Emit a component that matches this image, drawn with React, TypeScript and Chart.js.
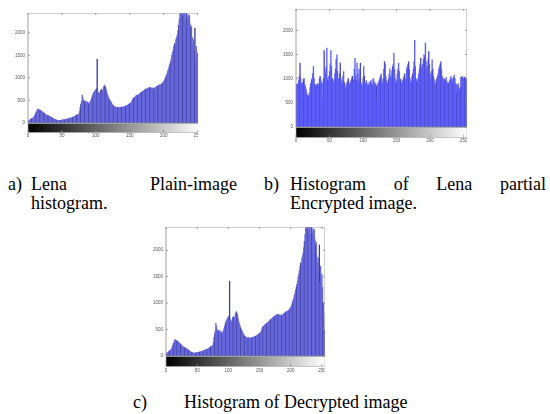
import React, { useEffect, useRef } from "react";
import { Chart, registerables } from "chart.js";
Chart.register(...registerables);

// Grey levels (histogram bins)
const bins: number[] = Array.from({ length: 256 }, (_, i) => i);
const xTicks = [0, 50, 100, 150, 200, 250];
const yTicks = [0, 500, 1000, 1500, 2000];
const yMax = 2440;

// (a) Lena plain-image histogram
const plainHist = [
  25, 45, 60, 70, 80, 95, 100, 110, 120, 140,
  170, 200, 240, 270, 300, 310, 295, 290, 280, 270,
  265, 250, 240, 230, 215, 200, 190, 180, 170, 165,
  160, 150, 145, 140, 130, 120, 110, 100, 95, 85,
  80, 70, 65, 60, 55, 50, 55, 60, 58, 62,
  65, 70, 68, 72, 75, 80, 78, 85, 90, 95,
  100, 105, 110, 115, 110, 120, 130, 125, 140, 150,
  160, 170, 180, 175, 190, 200, 260, 350, 420, 480,
  620, 560, 500, 480, 470, 490, 460, 450, 470, 440,
  420, 450, 480, 520, 560, 600, 640, 680, 700, 720,
  740, 760, 1415, 700, 660, 640, 680, 720, 740, 700,
  720, 780, 820, 840, 800, 760, 700, 640, 600, 560,
  520, 500, 480, 450, 420, 400, 380, 370, 360, 350,
  345, 340, 350, 345, 340, 335, 340, 345, 350, 355,
  360, 350, 365, 370, 375, 380, 390, 400, 410, 420,
  430, 440, 450, 480, 520, 540, 560, 570, 580, 600,
  610, 620, 600, 630, 640, 650, 670, 680, 690, 700,
  710, 720, 740, 730, 750, 760, 770, 780, 760, 790,
  780, 790, 770, 760, 780, 750, 770, 780, 790, 800,
  810, 830, 820, 840, 850, 840, 860, 870, 880, 900,
  920, 950, 980, 1020, 1060, 1100, 1150, 1200, 1250, 1300,
  1350, 1420, 1500, 1560, 1620, 1700, 1760, 1720, 1850, 1900,
  1950, 2050, 2170, 2300, 2420, 2500, 2460, 2500, 2380, 2480,
  2500, 2450, 2300, 2500, 2420, 2350, 2280, 2400, 2380, 2200,
  2100, 2150, 1900, 1760, 1850, 1600, 2100, 1400, 1700, 1500,
  1550, 1300, 1000, 800, 500, 480,
];

// (b) Lena partially encrypted image histogram
const partialEncHist = [
  420, 880, 890, 870, 960, 1050, 1320, 1000, 900, 860,
  920, 980, 1000, 880, 840, 780, 700, 660, 650, 640,
  700, 820, 900, 960, 1000, 1100, 1250, 1000, 880, 860,
  870, 850, 900, 880, 860, 1000, 1050, 980, 900, 920,
  590, 1000, 1580, 1200, 1100, 1250, 1630, 1000, 960, 1050,
  1150, 1300, 1580, 1250, 1000, 950, 920, 980, 1100, 1200,
  1400, 1490, 1150, 1000, 950, 1100, 1320, 1000, 900, 960,
  1050, 1145, 920, 880, 800, 840, 920, 950, 1000, 900,
  880, 920, 960, 1000, 1050, 900, 980, 1200, 1420, 1050,
  960, 1320, 1100, 950, 1200, 1000, 1320, 920, 880, 860,
  1000, 1250, 1050, 920, 880, 960, 900, 850, 870, 920,
  880, 940, 960, 900, 860, 1000, 980, 920, 870, 900,
  840, 555, 880, 920, 960, 1000, 1050, 1100, 950, 900,
  1000, 1200, 1350, 1300, 1050, 960, 920, 880, 1000, 1100,
  1200, 1050, 1000, 1150, 1250, 1300, 1525, 1200, 1000, 960,
  920, 1100, 1200, 1320, 1150, 1000, 980, 920, 880, 960,
  1000, 1050, 1100, 1000, 950, 1200, 1250, 1300, 1350, 1200,
  1000, 920, 950, 1050, 1100, 1200, 1350, 1790, 1250, 1000,
  940, 960, 1000, 1100, 1200, 1300, 1420, 1250, 1150, 1300,
  1400, 1500, 1450, 1735, 1350, 1200, 1250, 1400, 1560, 1300,
  1100, 1000, 1150, 1390, 1200, 1050, 980, 920, 880, 960,
  1000, 1050, 1100, 1200, 1250, 1300, 1350, 1200, 1050, 1000,
  960, 1000, 980, 950, 1020, 940, 900, 920, 880, 960,
  1000, 1050, 980, 920, 1000, 1030, 1075, 1000, 900, 880,
  700, 850, 900, 800, 780, 820, 1030, 1020, 1040, 1010,
  1000, 1020, 1030, 1000, 980, 555,
];

// (c) Decrypted image histogram: identical to the plain image
const decryptedHist = plainHist;

type PanelProps = {
  values: number[];
  color: string;
  stripe: string;
  left: number;
  top: number;
  width: number;
  height: number;
  yw: number;
  xh: number;
  cbH: number;
  xPad: number;
  clipW?: number;
};

function makeDecor(cbH: number) {
  return {
    id: "decor",
    afterDraw(chart: any) {
      const { ctx, chartArea: ca, scales } = chart;
      ctx.save();
      // grey-level colour bar below the axes
      const g = ctx.createLinearGradient(ca.left, 0, ca.right, 0);
      g.addColorStop(0, "#000");
      g.addColorStop(1, "#fff");
      ctx.fillStyle = g;
      ctx.fillRect(ca.left, ca.bottom + 0.5, ca.right - ca.left, cbH);
      ctx.strokeStyle = "#aaa";
      ctx.lineWidth = 0.6;
      ctx.strokeRect(ca.left, ca.bottom + 0.5, ca.right - ca.left, cbH);
      // axes box
      ctx.strokeStyle = "#888";
      ctx.lineWidth = 0.8;
      ctx.strokeRect(ca.left, ca.top, ca.right - ca.left, ca.bottom - ca.top);
      // inward ticks
      ctx.beginPath();
      xTicks.forEach((v) => {
        const px = scales.x.getPixelForValue(v);
        ctx.moveTo(px, ca.top);
        ctx.lineTo(px, ca.top + 2);
        ctx.moveTo(px, ca.bottom + cbH);
        ctx.lineTo(px, ca.bottom + cbH - 2);
      });
      yTicks.forEach((v) => {
        const py = scales.y.getPixelForValue(v);
        ctx.moveTo(ca.left, py);
        ctx.lineTo(ca.left + 2, py);
        ctx.moveTo(ca.right, py);
        ctx.lineTo(ca.right - 2, py);
      });
      ctx.stroke();
      ctx.restore();
    },
  };
}

function Histogram(p: PanelProps) {
  const ref = useRef<HTMLCanvasElement>(null);
  useEffect(() => {
    const tickFont = { size: 4.5, family: "Liberation Sans" };
    const chart = new Chart(ref.current as HTMLCanvasElement, {
      type: "bar",
      data: {
        datasets: [
          {
            data: bins.map((b, i) => ({ x: b, y: p.values[i] })),
            backgroundColor: (c: any) => (c.dataIndex % 6 === 0 ? p.stripe : p.color),
            borderWidth: 0,
            barPercentage: 1,
            categoryPercentage: 1,
          } as any,
        ],
      },
      options: {
        animation: false,
        responsive: false,
        events: [],
        layout: { padding: 0 },
        plugins: { legend: { display: false }, tooltip: { enabled: false } },
        scales: {
          x: {
            type: "linear",
            min: 0,
            max: 255,
            offset: false,
            grid: { display: false, drawTicks: false },
            border: { display: false },
            ticks: {
              includeBounds: false,
              autoSkip: false,
              maxRotation: 0,
              padding: p.xPad,
              font: tickFont,
              color: "#555",
              callback: (v: any) => String(v),
            },
            afterBuildTicks: (s: any) => {
              s.ticks = xTicks.map((v) => ({ value: v }));
            },
            afterFit: (s: any) => {
              s.height = p.xh;
              s.paddingLeft = 0;
              s.paddingRight = 0;
            },
          } as any,
          y: {
            min: 0,
            max: yMax,
            grid: { display: false, drawTicks: false },
            border: { display: false },
            ticks: {
              includeBounds: false,
              padding: 3,
              font: tickFont,
              color: "#555",
              callback: (v: any) => String(v),
            },
            afterBuildTicks: (s: any) => {
              s.ticks = yTicks.map((v) => ({ value: v }));
            },
            afterFit: (s: any) => {
              s.width = p.yw;
              s.paddingTop = 0;
              s.paddingBottom = 0;
            },
          } as any,
        },
      },
      plugins: [makeDecor(p.cbH)],
    });
    return () => chart.destroy();
  }, []);
  return (
    <div
      style={{
        position: "absolute",
        left: p.left,
        top: p.top,
        width: p.clipW ?? p.width,
        height: p.height,
        overflow: "hidden",
      }}
    >
      <canvas ref={ref} width={p.width} height={p.height} style={{ display: "block", width: p.width, height: p.height }} />
    </div>
  );
}

const capFont: React.CSSProperties = {
  position: "absolute",
  fontFamily: "'Liberation Serif', 'Times New Roman', serif",
  fontSize: 18,
  lineHeight: "19px",
  color: "#000",
  whiteSpace: "nowrap",
};

export default function App() {
  return (
    <div style={{ position: "absolute", left: 0, top: 0, width: 550, height: 414, background: "#fff", overflow: "hidden" }}>
      <Histogram values={plainHist} color="rgb(102,102,220)" stripe="rgb(60,60,150)" left={0} top={13} width={201} height={130} yw={28} xh={20} cbH={9} xPad={10} clipW={198} />
      <Histogram values={partialEncHist} color="rgb(92,92,250)" stripe="rgb(70,70,200)" left={266} top={9} width={201} height={140} yw={30} xh={22} cbH={10} xPad={11.5} />
      <Histogram values={decryptedHist} color="rgb(102,102,220)" stripe="rgb(60,60,150)" left={136} top={227} width={189} height={151} yw={30} xh={22} cbH={10} xPad={12.5} />

      <div style={{ ...capFont, left: 8, top: 175.4 }}>a)</div>
      <div style={{ ...capFont, left: 31, top: 175.4, width: 206, display: "flex", justifyContent: "space-between" }}>
        <span>Lena</span>
        <span>Plain-image</span>
      </div>
      <div style={{ ...capFont, left: 31, top: 194.4 }}>histogram.</div>

      <div style={{ ...capFont, left: 264, top: 175.4 }}>b)</div>
      <div style={{ ...capFont, left: 290, top: 175.4, width: 256, display: "flex", justifyContent: "space-between" }}>
        <span>Histogram</span>
        <span>of</span>
        <span>Lena</span>
        <span>partial</span>
      </div>
      <div style={{ ...capFont, left: 290, top: 194.4 }}>Encrypted image.</div>

      <div style={{ ...capFont, left: 133, top: 393.4 }}>c)</div>
      <div style={{ ...capFont, left: 184, top: 393.4 }}>Histogram of Decrypted image</div>
    </div>
  );
}
